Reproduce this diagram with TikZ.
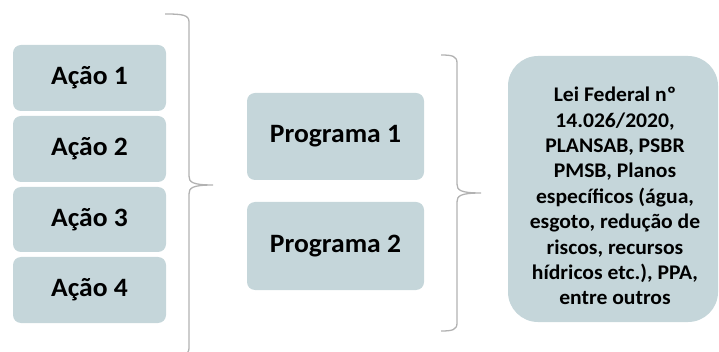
\documentclass[tikz,border=0pt]{standalone}
\usepackage{fontspec}
\newfontfamily\boxfont[FakeStretch=1.04]{Carlito}
\definecolor{boxfill}{RGB}{197,214,218}
\definecolor{bracecol}{RGB}{178,178,178}
\begin{document}
\begin{tikzpicture}[x=1pt,y=-1pt,
  box/.style={draw=none,fill=boxfill,rounded corners=8pt,inner sep=0pt,
    font=\boxfont\bfseries\fontsize{26.5}{30}\selectfont,text=black},
  bigbox/.style={draw=none,fill=boxfill,rounded corners=30pt,inner sep=0pt},
  bracepath/.style={draw=bracecol,line width=1.3pt}]
\useasboundingbox (0,0) rectangle (719,352);
\clip (0,0) rectangle (719,352);
% actions
\node[box,minimum width=153pt,minimum height=66pt] (a1) at (89.5,78) {Ação 1};
\node[box,minimum width=153pt,minimum height=66pt] (a2) at (89.5,149) {Ação 2};
\node[box,minimum width=153pt,minimum height=65pt] (a3) at (89.5,219.5) {Ação 3};
\node[box,minimum width=153pt,minimum height=66pt] (a4) at (89.5,290) {Ação 4};
% programs
\node[box,minimum width=177pt,minimum height=87pt] (p1) at (335.5,136.5) {Programa 1};
\node[box,minimum width=177pt,minimum height=88pt] (p2) at (335.5,246) {Programa 2};
% right box
\node[bigbox,minimum width=210pt,minimum height=266pt] (r) at (613,189) {};
\node[align=center,inner sep=0pt,font=\boxfont\bfseries\fontsize{20.8}{25.4}\selectfont] (rt) at (615,196)
 {Lei Federal nº\\14.026/2020,\\PLANSAB, PSBR\\PMSB, Planos\\específicos (água,\\esgoto, redução de\\riscos, recursos\\hídricos etc.), PPA,\\entre outros};
% brace 1
\coordinate (b1top) at (165,14);
\coordinate (b1tip) at (213,185);
\coordinate (b1bot) at (165,356);
\draw[bracepath] (b1top) .. controls (183,14) and (189,15) .. (189,22) -- (189,176)
  .. controls (189,182) and (192,185) .. (b1tip)
  .. controls (192,185) and (189,188) .. (189,194) -- (189,348)
  .. controls (189,355) and (183,356) .. (b1bot);
% brace 2
\coordinate (b2top) at (441,55);
\coordinate (b2tip) at (481,193);
\coordinate (b2bot) at (441,331);
\draw[bracepath] (b2top) .. controls (452,55) and (457,56) .. (457,63) -- (457,184)
  .. controls (457,190) and (460,193) .. (b2tip)
  .. controls (460,193) and (457,196) .. (457,202) -- (457,323)
  .. controls (457,330) and (452,331) .. (b2bot);
\end{tikzpicture}
\end{document}
